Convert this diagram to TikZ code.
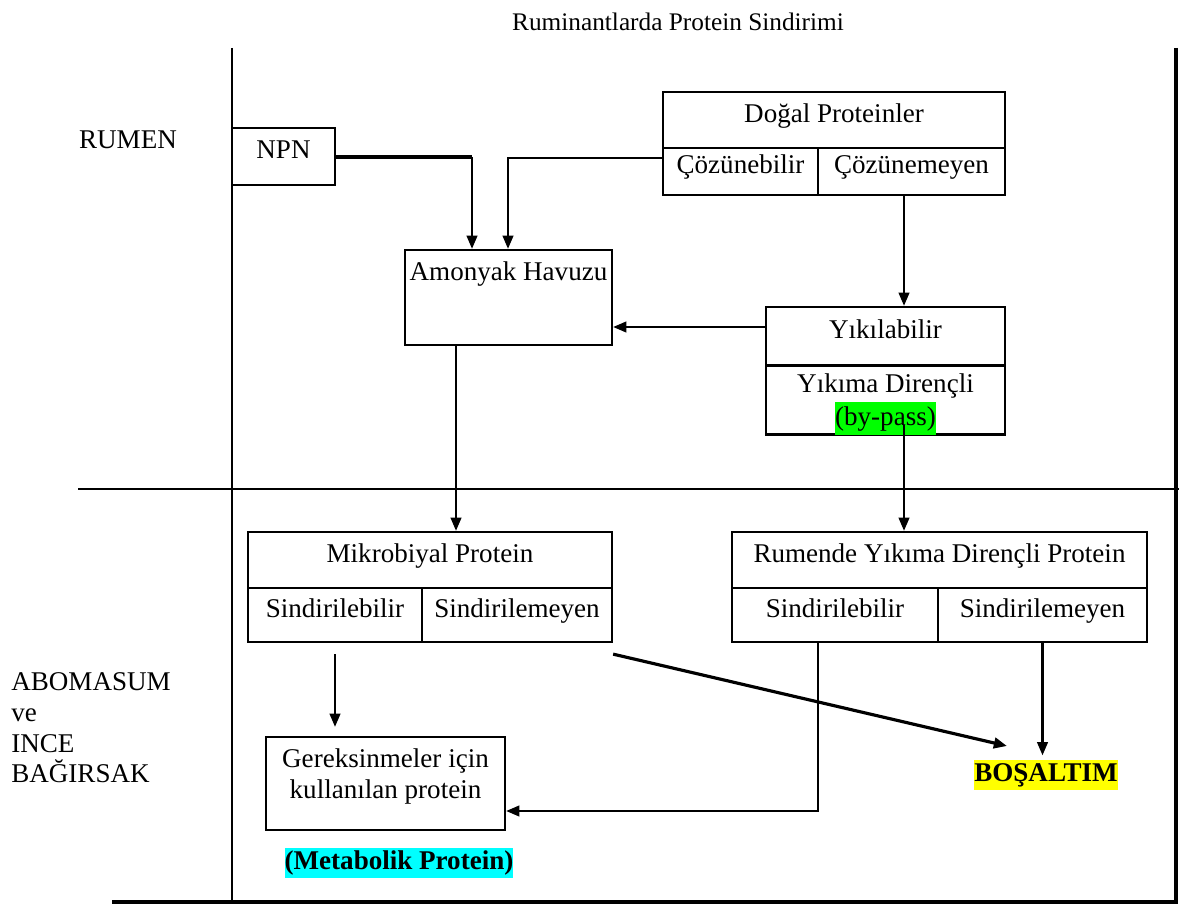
\documentclass[tikz,border=0pt]{standalone}
\usepackage{fontspec}
\setmainfont{Liberation Serif}
\usepackage{xcolor}
\usetikzlibrary{arrows.meta}
\setlength{\fboxsep}{0pt}
\definecolor{yesil}{RGB}{0,255,0}
\definecolor{sari}{RGB}{255,255,0}
\definecolor{turkuaz}{RGB}{0,255,255}

\begin{document}
\begin{tikzpicture}[x=0.02cm, y=-0.02cm,
    every node/.style={font=\fontsize{15.4}{17.4}\selectfont},
    kutu/.style={draw, line width=1.3pt, inner sep=0pt, align=center, text height=0.7em, text depth=0.45em},
    ok/.style={-{Triangle[length=7.5pt,width=6pt]}, line width=1.3pt}]
    \useasboundingbox (0,0) rectangle (1179,905);

    % Baslik ve bolgeler
    \node[font=\fontsize{14.4}{17}\selectfont] (baslik) at (678,22) {Ruminantlarda Protein Sindirimi};
    \node (rumen) at (128,140) {RUMEN};
    \node[anchor=west, align=left, inner sep=0pt] (abo) at (11,728) {ABOMASUM\\ve\\INCE\\BAĞIRSAK};

    % Cerceve
    \draw[line width=1.3pt] (232,48) -- (232,901);
    \draw[line width=1.7pt] (78,489) -- (1179,489);
    \draw[line width=2.6pt] (1176,48) -- (1176,902);
    \draw[line width=2.8pt] (112,902) -- (1178,902);

    % Rumen kutulari
    \node[kutu, minimum width=2.06cm, minimum height=1.14cm] (npn) at (283.5,156.5) {NPN};
    \node[kutu, minimum width=6.84cm, minimum height=1.12cm] (dp) at (834,120) {Doğal Proteinler};
    \node[kutu, minimum width=3.10cm, minimum height=0.94cm] (sol) at (740.5,171.5) {Çözünebilir};
    \node[kutu, minimum width=3.74cm, minimum height=0.94cm] (coz) at (911.5,171.5) {Çözünemeyen};
    \node[kutu, minimum width=4.14cm, minimum height=1.90cm,
          label={[anchor=north, inner sep=0pt, yshift=-0.25cm]north:Amonyak Havuzu}] (amh) at (508.5,297.5) {};
    \node[kutu, minimum width=4.78cm, minimum height=1.16cm] (yk) at (885.5,336) {Yıkılabilir};
    \node[kutu, minimum width=4.78cm, minimum height=1.38cm,
          label={[align=center, inner sep=0pt, yshift=-0.09cm, font=\fontsize{15.4}{18.6}\selectfont]center:Yıkıma Dirençli\\\colorbox{yesil}{\strut(by-pass)}}] (yd) at (885.5,400) {};

    % Abomasum kutulari
    \node[kutu, minimum width=7.28cm, minimum height=1.12cm] (mp) at (430,560) {Mikrobiyal Protein};
    \node[kutu, minimum width=3.48cm, minimum height=1.08cm] (ms) at (335,615) {Sindirilebilir};
    \node[kutu, minimum width=3.80cm, minimum height=1.08cm] (mn) at (517,615) {Sindirilemeyen};
    \node[kutu, minimum width=8.30cm, minimum height=1.12cm] (rp) at (939.5,560) {Rumende Yıkıma Dirençli Protein};
    \node[kutu, minimum width=4.12cm, minimum height=1.08cm] (rs) at (835,615) {Sindirilebilir};
    \node[kutu, minimum width=4.18cm, minimum height=1.08cm] (rn) at (1042.5,615) {Sindirilemeyen};
    \node[kutu, minimum width=4.78cm, minimum height=1.86cm,
          label={[anchor=north, inner sep=0pt, yshift=-0.26cm, align=center]north:Gereksinmeler için\\kullanılan protein}] (ger) at (385.5,783.5) {};
    \node[inner sep=0pt] (bos) at (1046,775) {\colorbox{sari}{\strut\textbf{BOŞALTIM}}};
    \node[inner sep=0pt] (met) at (399,863) {\colorbox{turkuaz}{\strut\textbf{(Metabolik Protein)}}};

    % Yardimci noktalar
    \coordinate (nk) at (472,157);
    \coordinate (cz) at (663,158);
    \coordinate (k1) at (508,0);
    \coordinate (k2) at (904,0);
    \coordinate (k3) at (0,327);
    \coordinate (k4) at (456,0);
    \coordinate (k5) at (904,425);
    \coordinate (k6) at (818,0);
    \coordinate (k7) at (0,811);
    \coordinate (bt) at (1007,746);

    % Oklar
    \draw[line width=2.6pt] (npn.east |- nk) -- (nk);
    \draw[ok] (nk) -- (nk |- amh.north);
    \draw[ok] (cz) -| (k1 |- amh.north);
    \draw[ok] (coz.south -| k2) -- (yk.north -| k2);
    \draw[ok] (yk.west |- k3) -- (amh.east |- k3);
    \draw[ok] (amh.south -| k4) -- (mp.north -| k4);
    \draw[ok] (k5) -- (k5 |- rp.north);
    \draw[ok] ([yshift=-0.22cm]ms.south) -- ([yshift=0.18cm]ms.south |- ger.north);
    \draw[ok, line width=1.8pt] ([yshift=-0.22cm]mn.south east) -- (bt);
    \draw[ok] (rs.south -| k6) |- (ger.east |- k7);
    \draw[ok] (rn.south) -- ([yshift=0.08cm]rn.south |- bos.north);
\end{tikzpicture}
\end{document}
